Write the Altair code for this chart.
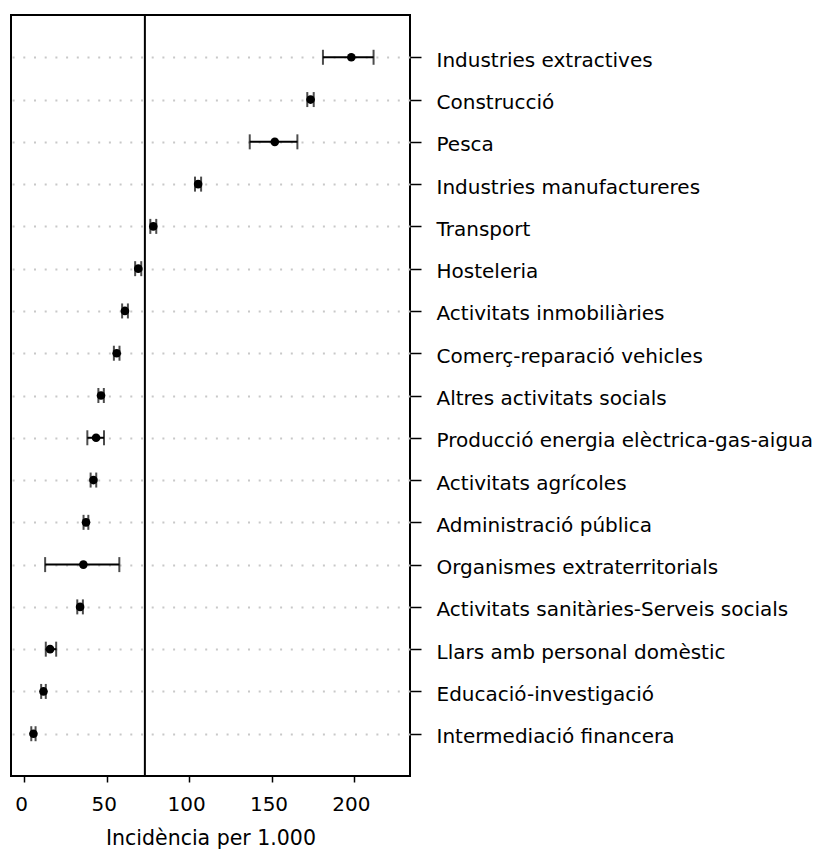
import altair as alt
import pandas as pd

categories = [
    "Industries extractives",
    "Construcció",
    "Pesca",
    "Industries manufactureres",
    "Transport",
    "Hosteleria",
    "Activitats inmobiliàries",
    "Comerç-reparació vehicles",
    "Altres activitats socials",
    "Producció energia elèctrica-gas-aigua",
    "Activitats agrícoles",
    "Administració pública",
    "Organismes extraterritorials",
    "Activitats sanitàries-Serveis socials",
    "Llars amb personal domèstic",
    "Educació-investigació",
    "Intermediació financera",
]
values = [198.4, 173.7, 152.0, 105.5, 78.3, 69.2, 61.1, 56.1, 46.6, 43.6, 42.0, 37.5, 35.9, 33.9, 15.7, 11.7, 5.6]
lower = [181.2, 171.7, 136.8, 103.6, 76.5, 67.3, 59.4, 54.4, 45.0, 38.3, 40.3, 36.0, 12.7, 32.2, 13.1, 10.3, 4.3]
upper = [211.9, 175.6, 165.7, 107.3, 80.1, 71.0, 62.9, 57.8, 48.3, 48.4, 43.7, 38.9, 57.7, 35.6, 19.4, 13.1, 6.9]
reference_value = 73.2
x_ticks = [0, 50, 100, 150, 200]

df = pd.DataFrame({"cat": categories, "val": values, "lo": lower, "hi": upper})

FONT = "DejaVu Sans"

x_scale = alt.Scale(domain=[-8, 234], nice=False, zero=False)
y_scale = alt.Scale(type="point", padding=1)

y_axis = alt.Axis(
    orient="right",
    title=None,
    domain=False,
    ticks=True,
    tickSize=11,
    tickWidth=1.5,
    tickColor="black",
    labelPadding=15,
    labelOffset=3,
    labelFont=FONT,
    labelFontSize=20,
    labelColor="black",
    labelLimit=600,
    grid=True,
    gridColor="#c8c8c8",
    gridWidth=2,
    gridDash=[2, 8.7],
)

x_axis = alt.Axis(
    title="Incidència per 1.000",
    titleFont=FONT,
    titleFontSize=20.5,
    titleFontWeight="normal",
    titleColor="black",
    titlePadding=14,
    values=x_ticks,
    domain=False,
    grid=False,
    tickSize=6,
    tickWidth=1.5,
    tickColor="black",
    labelFont=FONT,
    labelFontSize=20,
    labelColor="black",
    labelPadding=12,
    labelOffset=-3,
)

base = alt.Chart(df)
y_enc = alt.Y("cat:N", sort=None, scale=y_scale, axis=y_axis)
y_plain = alt.Y("cat:N", sort=None, scale=y_scale)

rules = base.mark_rule(color="black", strokeWidth=2).encode(
    x=alt.X("lo:Q", scale=x_scale, axis=x_axis),
    x2="hi:Q",
    y=y_enc,
)
caps_lo = base.mark_tick(color="black", thickness=2, size=15, orient="vertical").encode(
    x=alt.X("lo:Q", scale=x_scale), y=y_plain
)
caps_hi = base.mark_tick(color="black", thickness=2, size=15, orient="vertical").encode(
    x=alt.X("hi:Q", scale=x_scale), y=y_plain
)
points = base.mark_circle(color="black", opacity=1, size=75).encode(
    x=alt.X("val:Q", scale=x_scale), y=y_plain
)
ref = alt.Chart(pd.DataFrame({"ref": [reference_value]})).mark_rule(
    color="black", strokeWidth=2
).encode(x=alt.X("ref:Q", scale=x_scale))

chart = (
    alt.layer(rules, caps_lo, caps_hi, points, ref)
    .properties(
        width=399,
        height=761,
        padding={"left": 3, "top": 6, "right": 0, "bottom": 0},
        background="white",
    )
    .configure_view(stroke="black", strokeWidth=2)
)

chart.save("out.html", embed_options={"renderer": "svg", "actions": False})
